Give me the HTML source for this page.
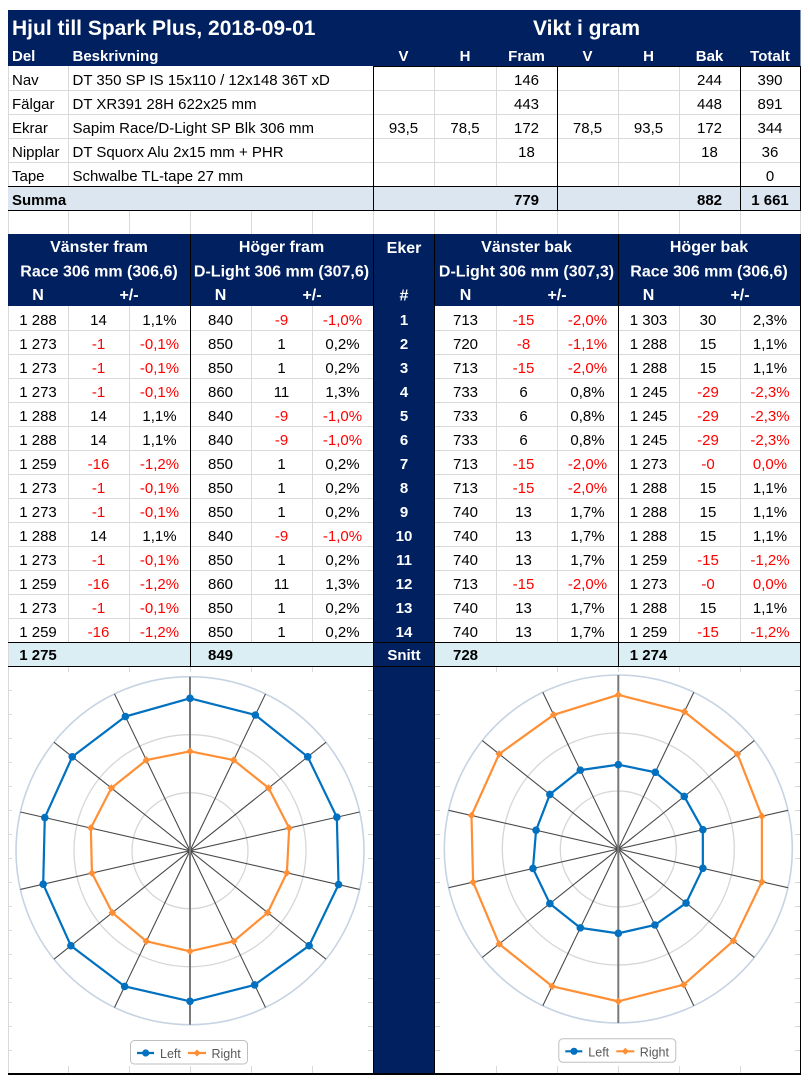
<!DOCTYPE html>
<html><head><meta charset="utf-8"><title>Hjul till Spark Plus</title>
<style>
html,body{margin:0;padding:0;background:#fff;}
svg{display:block;}
text{font-family:"Liberation Sans",Arial,sans-serif;}
.w{fill:#fff;font-weight:bold;}
.b{font-weight:bold;}
.r{fill:#ff0000;}
.m{text-anchor:middle;}
</style></head><body>
<svg width="810" height="1080" viewBox="0 0 810 1080" xmlns="http://www.w3.org/2000/svg">
<defs>
<marker id="mc" viewBox="-5 -5 10 10" markerWidth="10" markerHeight="10" refX="0" refY="0" markerUnits="userSpaceOnUse"><circle r="3.8" fill="#0070c0"/></marker>
<marker id="md" viewBox="-5 -5 10 10" markerWidth="10" markerHeight="10" refX="0" refY="0" markerUnits="userSpaceOnUse"><path d="M0 -3.8L3.8 0 0 3.8 -3.8 0z" fill="#ff8f35"/></marker>
</defs>
<rect width="810" height="1080" fill="#fff"/>
<!-- fills -->
<rect x="8" y="10" width="792.5" height="56" fill="#002060"/>
<rect x="8" y="186" width="792.5" height="24" fill="#dce6f1"/>
<rect x="8" y="234" width="792.5" height="72" fill="#002060"/>
<rect x="8" y="642" width="792.5" height="24" fill="#daeef3"/>
<rect x="373" y="234" width="61.5" height="840" fill="#002060"/>

<!-- light gridlines -->
<path fill="none" stroke="#d9d9d9" stroke-width="1" d="
M8 90.5H800M8 114.5H800M8 138.5H800M8 162.5H800
M8.5 66V186M68.5 66V186M434.5 66V186M496.5 66V186M618.5 66V186M679.5 66V186
M8.5 209V234M68.5 210V234M129.5 210V234M190.5 210V234M251.5 210V234M312.5 210V234M373.5 210V234M434.5 210V234M496.5 210V234M557.5 210V234M618.5 210V234M679.5 210V234M740.5 210V234M800.5 210V234
M8 330.5H373M8 354.5H373M8 378.5H373M8 402.5H373M8 426.5H373M8 450.5H373M8 474.5H373M8 498.5H373M8 522.5H373M8 546.5H373M8 570.5H373M8 594.5H373M8 618.5H373
M435 330.5H800M435 354.5H800M435 378.5H800M435 402.5H800M435 426.5H800M435 450.5H800M435 474.5H800M435 498.5H800M435 522.5H800M435 546.5H800M435 570.5H800M435 594.5H800M435 618.5H800
M8.5 306V666M68.5 306V642M129.5 306V642M251.5 306V642M312.5 306V642M496.5 306V642M557.5 306V642M679.5 306V642M740.5 306V642
M8 690.5H373M8 714.5H373M8 738.5H373M8 762.5H373M8 786.5H373M8 810.5H373M8 834.5H373M8 858.5H373M8 882.5H373M8 906.5H373M8 930.5H373M8 954.5H373M8 978.5H373M8 1002.5H373M8 1026.5H373M8 1050.5H373
M435 690.5H800M435 714.5H800M435 738.5H800M435 762.5H800M435 786.5H800M435 810.5H800M435 834.5H800M435 858.5H800M435 882.5H800M435 906.5H800M435 930.5H800M435 954.5H800M435 978.5H800M435 1002.5H800M435 1026.5H800M435 1050.5H800
M8.5 666V1074M68.5 666V1074M129.5 666V1074M190.5 666V1074M251.5 666V1074M312.5 666V1074
M496.5 666V1074M557.5 666V1074M618.5 666V1074M679.5 666V1074M740.5 666V1074"/>

<!-- chart backgrounds -->
<rect x="12" y="672" width="356" height="394" fill="#fff"/>
<rect x="440" y="672" width="355" height="394" fill="#fff"/>

<!-- black borders -->
<path fill="none" stroke="#000" stroke-width="1" d="
M373 66.5H801M8 186.5H801M8 210.5H801
M373.5 66V211M557.5 66V211M740.5 66V211M800.5 66V211
M190.5 234V667M618.5 234V667
M373.5 234V1074M434.5 234V1074
M8 642.5H801M8 666.5H801
M800.5 234V1075"/>
<path d="M8 1074H801" stroke="#000" stroke-width="2"/>

<!-- Title -->
<text x="12" y="35" font-size="21" class="w">Hjul till Spark Plus, 2018-09-01</text>
<text x="586.5" y="35" font-size="21" class="w m">Vikt i gram</text>
<g font-size="15" class="w">
<text x="12" y="61">Del</text>
<text x="72.5" y="61">Beskrivning</text>
<text x="403.5" y="61" class="m">V</text>
<text x="465" y="61" class="m">H</text>
<text x="526.5" y="61" class="m">Fram</text>
<text x="587.5" y="61" class="m">V</text>
<text x="648.5" y="61" class="m">H</text>
<text x="709.5" y="61" class="m">Bak</text>
<text x="770" y="61" class="m">Totalt</text>
</g>

<!-- top table data -->
<g font-size="15" fill="#000">
<text x="12" y="85">Nav</text><text x="72.5" y="85">DT 350 SP IS 15x110 / 12x148 36T xD</text>
<text x="526.5" y="85" class="m">146</text><text x="709.5" y="85" class="m">244</text><text x="770" y="85" class="m">390</text>
<text x="12" y="109">Fälgar</text><text x="72.5" y="109">DT XR391 28H 622x25 mm</text>
<text x="526.5" y="109" class="m">443</text><text x="709.5" y="109" class="m">448</text><text x="770" y="109" class="m">891</text>
<text x="12" y="133">Ekrar</text><text x="72.5" y="133">Sapim Race/D-Light SP Blk 306 mm</text>
<text x="403.5" y="133" class="m">93,5</text><text x="465" y="133" class="m">78,5</text><text x="526.5" y="133" class="m">172</text><text x="587.5" y="133" class="m">78,5</text><text x="648.5" y="133" class="m">93,5</text><text x="709.5" y="133" class="m">172</text><text x="770" y="133" class="m">344</text>
<text x="12" y="157">Nipplar</text><text x="72.5" y="157">DT Squorx Alu 2x15 mm + PHR</text>
<text x="526.5" y="157" class="m">18</text><text x="709.5" y="157" class="m">18</text><text x="770" y="157" class="m">36</text>
<text x="12" y="181">Tape</text><text x="72.5" y="181">Schwalbe TL-tape 27 mm</text>
<text x="770" y="181" class="m">0</text>
<text x="12" y="205" class="b">Summa</text>
<text x="526.5" y="205" class="m b">779</text><text x="709.5" y="205" class="m b">882</text><text x="770" y="205" class="m b">1 661</text>
</g>

<!-- spoke header -->
<g font-size="16" class="w m">
<text x="99" y="252">Vänster fram</text>
<text x="281.5" y="252">Höger fram</text>
<text x="404" y="253">Eker</text>
<text x="526.5" y="252">Vänster bak</text>
<text x="709" y="252">Höger bak</text>
<text x="99" y="276.5">Race 306 mm (306,6)</text>
<text x="281.5" y="276.5">D-Light 306 mm (307,6)</text>
<text x="526.5" y="276.5">D-Light 306 mm (307,3)</text>
<text x="709" y="276.5">Race 306 mm (306,6)</text>
<text x="38" y="300">N</text><text x="129" y="300">+/-</text>
<text x="220.5" y="300">N</text><text x="312" y="300">+/-</text>
<text x="404" y="300.5">#</text>
<text x="465.5" y="300">N</text><text x="557" y="300">+/-</text>
<text x="648.5" y="300">N</text><text x="740" y="300">+/-</text>
</g>

<!-- spoke rows -->
<g font-size="15" class="m" fill="#000">
<text x="38" y="325">1 288</text><text x="98.5" y="325">14</text><text x="159.5" y="325">1,1%</text><text x="220.5" y="325">840</text><text x="281.5" y="325" class="r">-9</text><text x="342.5" y="325" class="r">-1,0%</text><text x="404" y="325" class="w">1</text><text x="465.5" y="325">713</text><text x="523.5" y="325" class="r">-15</text><text x="587.5" y="325" class="r">-2,0%</text><text x="648.5" y="325">1 303</text><text x="708" y="325">30</text><text x="770" y="325">2,3%</text>

<text x="38" y="349">1 273</text><text x="98.5" y="349" class="r">-1</text><text x="159.5" y="349" class="r">-0,1%</text><text x="220.5" y="349">850</text><text x="281.5" y="349">1</text><text x="342.5" y="349">0,2%</text><text x="404" y="349" class="w">2</text><text x="465.5" y="349">720</text><text x="523.5" y="349" class="r">-8</text><text x="587.5" y="349" class="r">-1,1%</text><text x="648.5" y="349">1 288</text><text x="708" y="349">15</text><text x="770" y="349">1,1%</text>

<text x="38" y="373">1 273</text><text x="98.5" y="373" class="r">-1</text><text x="159.5" y="373" class="r">-0,1%</text><text x="220.5" y="373">850</text><text x="281.5" y="373">1</text><text x="342.5" y="373">0,2%</text><text x="404" y="373" class="w">3</text><text x="465.5" y="373">713</text><text x="523.5" y="373" class="r">-15</text><text x="587.5" y="373" class="r">-2,0%</text><text x="648.5" y="373">1 288</text><text x="708" y="373">15</text><text x="770" y="373">1,1%</text>

<text x="38" y="397">1 273</text><text x="98.5" y="397" class="r">-1</text><text x="159.5" y="397" class="r">-0,1%</text><text x="220.5" y="397">860</text><text x="281.5" y="397">11</text><text x="342.5" y="397">1,3%</text><text x="404" y="397" class="w">4</text><text x="465.5" y="397">733</text><text x="523.5" y="397">6</text><text x="587.5" y="397">0,8%</text><text x="648.5" y="397">1 245</text><text x="708" y="397" class="r">-29</text><text x="770" y="397" class="r">-2,3%</text>

<text x="38" y="421">1 288</text><text x="98.5" y="421">14</text><text x="159.5" y="421">1,1%</text><text x="220.5" y="421">840</text><text x="281.5" y="421" class="r">-9</text><text x="342.5" y="421" class="r">-1,0%</text><text x="404" y="421" class="w">5</text><text x="465.5" y="421">733</text><text x="523.5" y="421">6</text><text x="587.5" y="421">0,8%</text><text x="648.5" y="421">1 245</text><text x="708" y="421" class="r">-29</text><text x="770" y="421" class="r">-2,3%</text>

<text x="38" y="445">1 288</text><text x="98.5" y="445">14</text><text x="159.5" y="445">1,1%</text><text x="220.5" y="445">840</text><text x="281.5" y="445" class="r">-9</text><text x="342.5" y="445" class="r">-1,0%</text><text x="404" y="445" class="w">6</text><text x="465.5" y="445">733</text><text x="523.5" y="445">6</text><text x="587.5" y="445">0,8%</text><text x="648.5" y="445">1 245</text><text x="708" y="445" class="r">-29</text><text x="770" y="445" class="r">-2,3%</text>

<text x="38" y="469">1 259</text><text x="98.5" y="469" class="r">-16</text><text x="159.5" y="469" class="r">-1,2%</text><text x="220.5" y="469">850</text><text x="281.5" y="469">1</text><text x="342.5" y="469">0,2%</text><text x="404" y="469" class="w">7</text><text x="465.5" y="469">713</text><text x="523.5" y="469" class="r">-15</text><text x="587.5" y="469" class="r">-2,0%</text><text x="648.5" y="469">1 273</text><text x="708" y="469" class="r">-0</text><text x="770" y="469" class="r">0,0%</text>

<text x="38" y="493">1 273</text><text x="98.5" y="493" class="r">-1</text><text x="159.5" y="493" class="r">-0,1%</text><text x="220.5" y="493">850</text><text x="281.5" y="493">1</text><text x="342.5" y="493">0,2%</text><text x="404" y="493" class="w">8</text><text x="465.5" y="493">713</text><text x="523.5" y="493" class="r">-15</text><text x="587.5" y="493" class="r">-2,0%</text><text x="648.5" y="493">1 288</text><text x="708" y="493">15</text><text x="770" y="493">1,1%</text>

<text x="38" y="517">1 273</text><text x="98.5" y="517" class="r">-1</text><text x="159.5" y="517" class="r">-0,1%</text><text x="220.5" y="517">850</text><text x="281.5" y="517">1</text><text x="342.5" y="517">0,2%</text><text x="404" y="517" class="w">9</text><text x="465.5" y="517">740</text><text x="523.5" y="517">13</text><text x="587.5" y="517">1,7%</text><text x="648.5" y="517">1 288</text><text x="708" y="517">15</text><text x="770" y="517">1,1%</text>

<text x="38" y="541">1 288</text><text x="98.5" y="541">14</text><text x="159.5" y="541">1,1%</text><text x="220.5" y="541">840</text><text x="281.5" y="541" class="r">-9</text><text x="342.5" y="541" class="r">-1,0%</text><text x="404" y="541" class="w">10</text><text x="465.5" y="541">740</text><text x="523.5" y="541">13</text><text x="587.5" y="541">1,7%</text><text x="648.5" y="541">1 288</text><text x="708" y="541">15</text><text x="770" y="541">1,1%</text>

<text x="38" y="565">1 273</text><text x="98.5" y="565" class="r">-1</text><text x="159.5" y="565" class="r">-0,1%</text><text x="220.5" y="565">850</text><text x="281.5" y="565">1</text><text x="342.5" y="565">0,2%</text><text x="404" y="565" class="w">11</text><text x="465.5" y="565">740</text><text x="523.5" y="565">13</text><text x="587.5" y="565">1,7%</text><text x="648.5" y="565">1 259</text><text x="708" y="565" class="r">-15</text><text x="770" y="565" class="r">-1,2%</text>

<text x="38" y="589">1 259</text><text x="98.5" y="589" class="r">-16</text><text x="159.5" y="589" class="r">-1,2%</text><text x="220.5" y="589">860</text><text x="281.5" y="589">11</text><text x="342.5" y="589">1,3%</text><text x="404" y="589" class="w">12</text><text x="465.5" y="589">713</text><text x="523.5" y="589" class="r">-15</text><text x="587.5" y="589" class="r">-2,0%</text><text x="648.5" y="589">1 273</text><text x="708" y="589" class="r">-0</text><text x="770" y="589" class="r">0,0%</text>

<text x="38" y="613">1 273</text><text x="98.5" y="613" class="r">-1</text><text x="159.5" y="613" class="r">-0,1%</text><text x="220.5" y="613">850</text><text x="281.5" y="613">1</text><text x="342.5" y="613">0,2%</text><text x="404" y="613" class="w">13</text><text x="465.5" y="613">740</text><text x="523.5" y="613">13</text><text x="587.5" y="613">1,7%</text><text x="648.5" y="613">1 288</text><text x="708" y="613">15</text><text x="770" y="613">1,1%</text>

<text x="38" y="637">1 259</text><text x="98.5" y="637" class="r">-16</text><text x="159.5" y="637" class="r">-1,2%</text><text x="220.5" y="637">850</text><text x="281.5" y="637">1</text><text x="342.5" y="637">0,2%</text><text x="404" y="637" class="w">14</text><text x="465.5" y="637">740</text><text x="523.5" y="637">13</text><text x="587.5" y="637">1,7%</text><text x="648.5" y="637">1 259</text><text x="708" y="637" class="r">-15</text><text x="770" y="637" class="r">-1,2%</text>

<text x="38" y="660" class="b">1 275</text><text x="220.5" y="660" class="b">849</text><text x="404" y="660" class="w">Snitt</text><text x="465.5" y="660" class="b">728</text><text x="648.5" y="660" class="b">1 274</text>
</g>

<!-- LEFT CHART -->
<g transform="translate(190,850.7)">
<circle r="58" fill="none" stroke="#d6d6d6" stroke-width="1.3"/>
<circle r="116" fill="none" stroke="#d6d6d6" stroke-width="1.3"/>
<circle r="174" fill="none" stroke="#c6d3e3" stroke-width="1.6"/>
<path fill="none" stroke="#4a4a4a" stroke-width="1.1" d="M75.5 -156.77L-75.5 156.77M136.04 -108.49L-136.04 108.49M169.64 -38.72L-169.64 38.72M169.64 38.72L-169.64 -38.72M136.04 108.49L-136.04 -108.49M75.5 156.77L-75.5 -156.77"/>
<path d="M0 -174V174" stroke="#7a7a7a" stroke-width="2" fill="none"/>
<polygon fill="none" stroke="#ff8f35" stroke-width="2.2" stroke-linejoin="round" marker-start="url(#md)" marker-mid="url(#md)" points="0,-99.37 43.63,-90.60 78.62,-62.70 99.19,-22.64 96.88,22.11 77.69,61.96 43.63,90.60 0,100.56 -43.63,90.60 -77.69,61.96 -98.04,22.38 -99.19,-22.64 -78.62,-62.70 -43.63,-90.60"/>
<polygon fill="none" stroke="#0070c0" stroke-width="2.2" stroke-linejoin="round" marker-start="url(#mc)" marker-mid="url(#mc)" points="0,-152.37 65.34,-135.69 117.74,-93.90 146.82,-33.51 148.55,33.91 119.13,95.00 64.62,134.19 0,150.60 -65.34,135.69 -119.13,95.00 -146.82,33.51 -145.21,-33.14 -117.74,-93.90 -64.62,-134.19"/>
<rect x="-59.5" y="189.8" width="117" height="23.5" rx="4" fill="#fff" stroke="#bfbfbf" stroke-width="1"/>
<line x1="-53" y1="202.3" x2="-36" y2="202.3" stroke="#0070c0" stroke-width="2.2"/>
<circle cx="-44.3" cy="202.3" r="3.6" fill="#0070c0"/>
<text x="-30" y="207.3" font-size="12.5" fill="#595959">Left</text>
<line x1="-2" y1="202.3" x2="16" y2="202.3" stroke="#ff8f35" stroke-width="2.2"/>
<path d="M7 198.8L10.5 202.3 7 205.8 3.5 202.3z" fill="#ff8f35"/>
<text x="21.5" y="207.3" font-size="12.5" fill="#595959">Right</text>
</g>

<!-- RIGHT CHART -->
<g transform="translate(618.3,849)">
<circle r="58" fill="none" stroke="#d6d6d6" stroke-width="1.3"/>
<circle r="116" fill="none" stroke="#d6d6d6" stroke-width="1.3"/>
<circle r="174" fill="none" stroke="#c6d3e3" stroke-width="1.6"/>
<path fill="none" stroke="#4a4a4a" stroke-width="1.1" d="M75.5 -156.77L-75.5 156.77M136.04 -108.49L-136.04 108.49M169.64 -38.72L-169.64 38.72M169.64 38.72L-169.64 -38.72M136.04 108.49L-136.04 -108.49M75.5 156.77L-75.5 -156.77"/>
<path d="M0 -174V174" stroke="#7a7a7a" stroke-width="2" fill="none"/>
<polygon fill="none" stroke="#0070c0" stroke-width="2.2" stroke-linejoin="round" marker-start="url(#mc)" marker-mid="url(#mc)" points="0,-84.35 36.96,-76.74 65.95,-52.59 84.54,-19.29 84.54,19.29 67.79,54.06 36.60,76.00 0,84.35 -37.98,78.87 -68.44,54.58 -85.34,19.48 -82.24,-18.77 -68.44,-54.58 -37.98,-78.87"/>
<polygon fill="none" stroke="#ff8f35" stroke-width="2.2" stroke-linejoin="round" marker-start="url(#md)" marker-mid="url(#md)" points="0,-154.14 66.11,-137.28 119.13,-95.00 143.59,-32.77 143.59,32.77 115.15,91.83 65.34,135.69 0,152.37 -66.11,137.28 -119.13,95.00 -145.21,33.14 -146.82,-33.51 -119.13,-95.00 -64.62,-134.19"/>
<rect x="-59.5" y="189.8" width="117" height="23.5" rx="4" fill="#fff" stroke="#bfbfbf" stroke-width="1"/>
<line x1="-53" y1="202.3" x2="-36" y2="202.3" stroke="#0070c0" stroke-width="2.2"/>
<circle cx="-44.3" cy="202.3" r="3.6" fill="#0070c0"/>
<text x="-30" y="207.3" font-size="12.5" fill="#595959">Left</text>
<line x1="-2" y1="202.3" x2="16" y2="202.3" stroke="#ff8f35" stroke-width="2.2"/>
<path d="M7 198.8L10.5 202.3 7 205.8 3.5 202.3z" fill="#ff8f35"/>
<text x="21.5" y="207.3" font-size="12.5" fill="#595959">Right</text>
</g>
</svg>
</body></html>
